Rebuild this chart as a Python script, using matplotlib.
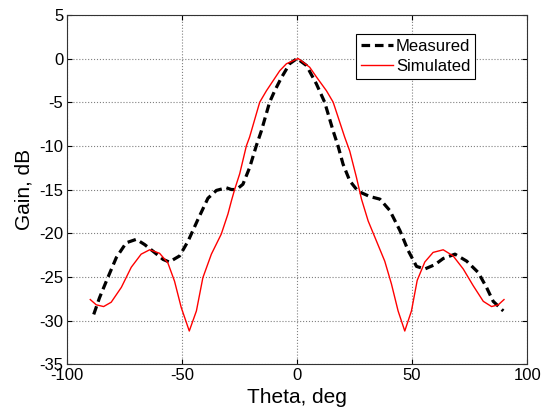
import numpy as np
import matplotlib.pyplot as plt

plt.rcParams['font.family'] = ['Liberation Sans', 'DejaVu Sans']
plt.rcParams['axes.unicode_minus'] = False

# --- Measured pattern ---
theta_meas = [-88.3, -85.8, -82.2, -78.5, -74.2, -69.8, -66.2, -61.9, -58.2, -55.5,
              -51.0, -47.3, -43.0, -38.7, -35.0, -30.7, -28.5, -26.3, -23.5, -20.6,
              -17.7, -15.5, -11.9, -9.7, -6.8, -3.2, 0.0, 4.1, 8.4, 12.0,
              15.7, 17.8, 20.0, 22.9, 26.5, 31.6, 36.0, 40.3, 44.7, 48.3,
              51.9, 55.5, 59.9, 63.5, 68.6, 73.7, 78.7, 82.3, 85.2, 89.6]
gain_meas = [-29.3, -27.4, -25.1, -22.8, -21.1, -20.7, -21.3, -22.2, -23.0, -23.3,
             -22.6, -20.9, -18.4, -16.0, -15.1, -14.8, -15.0, -15.0, -14.4, -12.5,
             -10.0, -8.3, -5.0, -3.7, -2.2, -0.6, 0.0, -0.8, -2.9, -5.0,
             -8.3, -10.0, -12.1, -14.0, -15.2, -15.8, -16.1, -17.4, -19.7, -22.0,
             -23.8, -24.1, -23.6, -22.9, -22.4, -23.2, -24.5, -26.2, -27.8, -28.9]

# --- Simulated pattern ---
theta_sim = [-89.8, -87.2, -84.0, -80.7, -76.3, -72.0, -67.7, -64.0, -59.7, -56.1,
             -53.2, -50.3, -46.8, -43.7, -40.9, -37.2, -32.9, -30.0, -28.5, -27.1,
             -24.9, -22.0, -20.6, -16.2, -13.3, -7.5, -4.6, 0.5, 5.5, 8.4,
             12.8, 15.7, 20.7, 22.9, 25.8, 28.0, 30.9, 34.5, 38.1, 41.0,
             43.9, 46.8, 49.7, 52.2, 55.5, 59.1, 63.5, 67.8, 72.2, 76.5,
             80.9, 84.5, 87.4, 89.9]
gain_sim = [-27.6, -28.2, -28.4, -27.9, -26.2, -23.9, -22.4, -21.9, -22.3, -23.4,
            -25.5, -28.5, -31.2, -28.9, -25.1, -22.4, -20.1, -17.8, -16.3, -15.0,
            -13.2, -10.0, -9.0, -5.0, -3.7, -1.4, -0.6, 0.0, -1.0, -2.1,
            -3.7, -5.0, -9.0, -10.6, -13.6, -16.1, -18.6, -20.9, -23.2, -25.8,
            -28.9, -31.2, -28.9, -25.4, -23.3, -22.2, -21.9, -22.6, -24.1, -26.0,
            -27.8, -28.4, -28.2, -27.6]

fig = plt.figure(figsize=(5.43, 4.12), dpi=100)
ax = fig.add_axes([0.123, 0.116, 0.848, 0.848])

ax.plot(theta_meas, gain_meas, 'k--', lw=2.3, dashes=(2.7, 1.5), label='Measured')
ax.plot(theta_sim, gain_sim, 'r-', lw=1.0, label='Simulated')

ax.set_xlim(-100, 100)
ax.set_ylim(-35, 5)
ax.set_xticks(np.arange(-100, 101, 50))
ax.set_yticks(np.arange(-35, 6, 5))
ax.grid(True, linestyle=':', color='gray', lw=0.8)
ax.tick_params(direction='in', top=True, right=True, labelsize=12)
ax.tick_params(axis='x', pad=3)
ax.tick_params(axis='y', pad=2.5)
for s in ax.spines.values():
    s.set_color('#333333')

ax.set_xlabel('Theta, deg', fontsize=15, labelpad=3)
ax.set_ylabel('Gain, dB', fontsize=15)

leg = ax.legend(loc='upper right', bbox_to_anchor=(0.887, 0.945), borderaxespad=0,
                fontsize=12, fancybox=False, framealpha=1, edgecolor='black',
                handlelength=1.9, handletextpad=0.2, borderpad=0.3, labelspacing=0.3)
leg.get_frame().set_linewidth(0.8)

fig.savefig('out.png', dpi=100)
